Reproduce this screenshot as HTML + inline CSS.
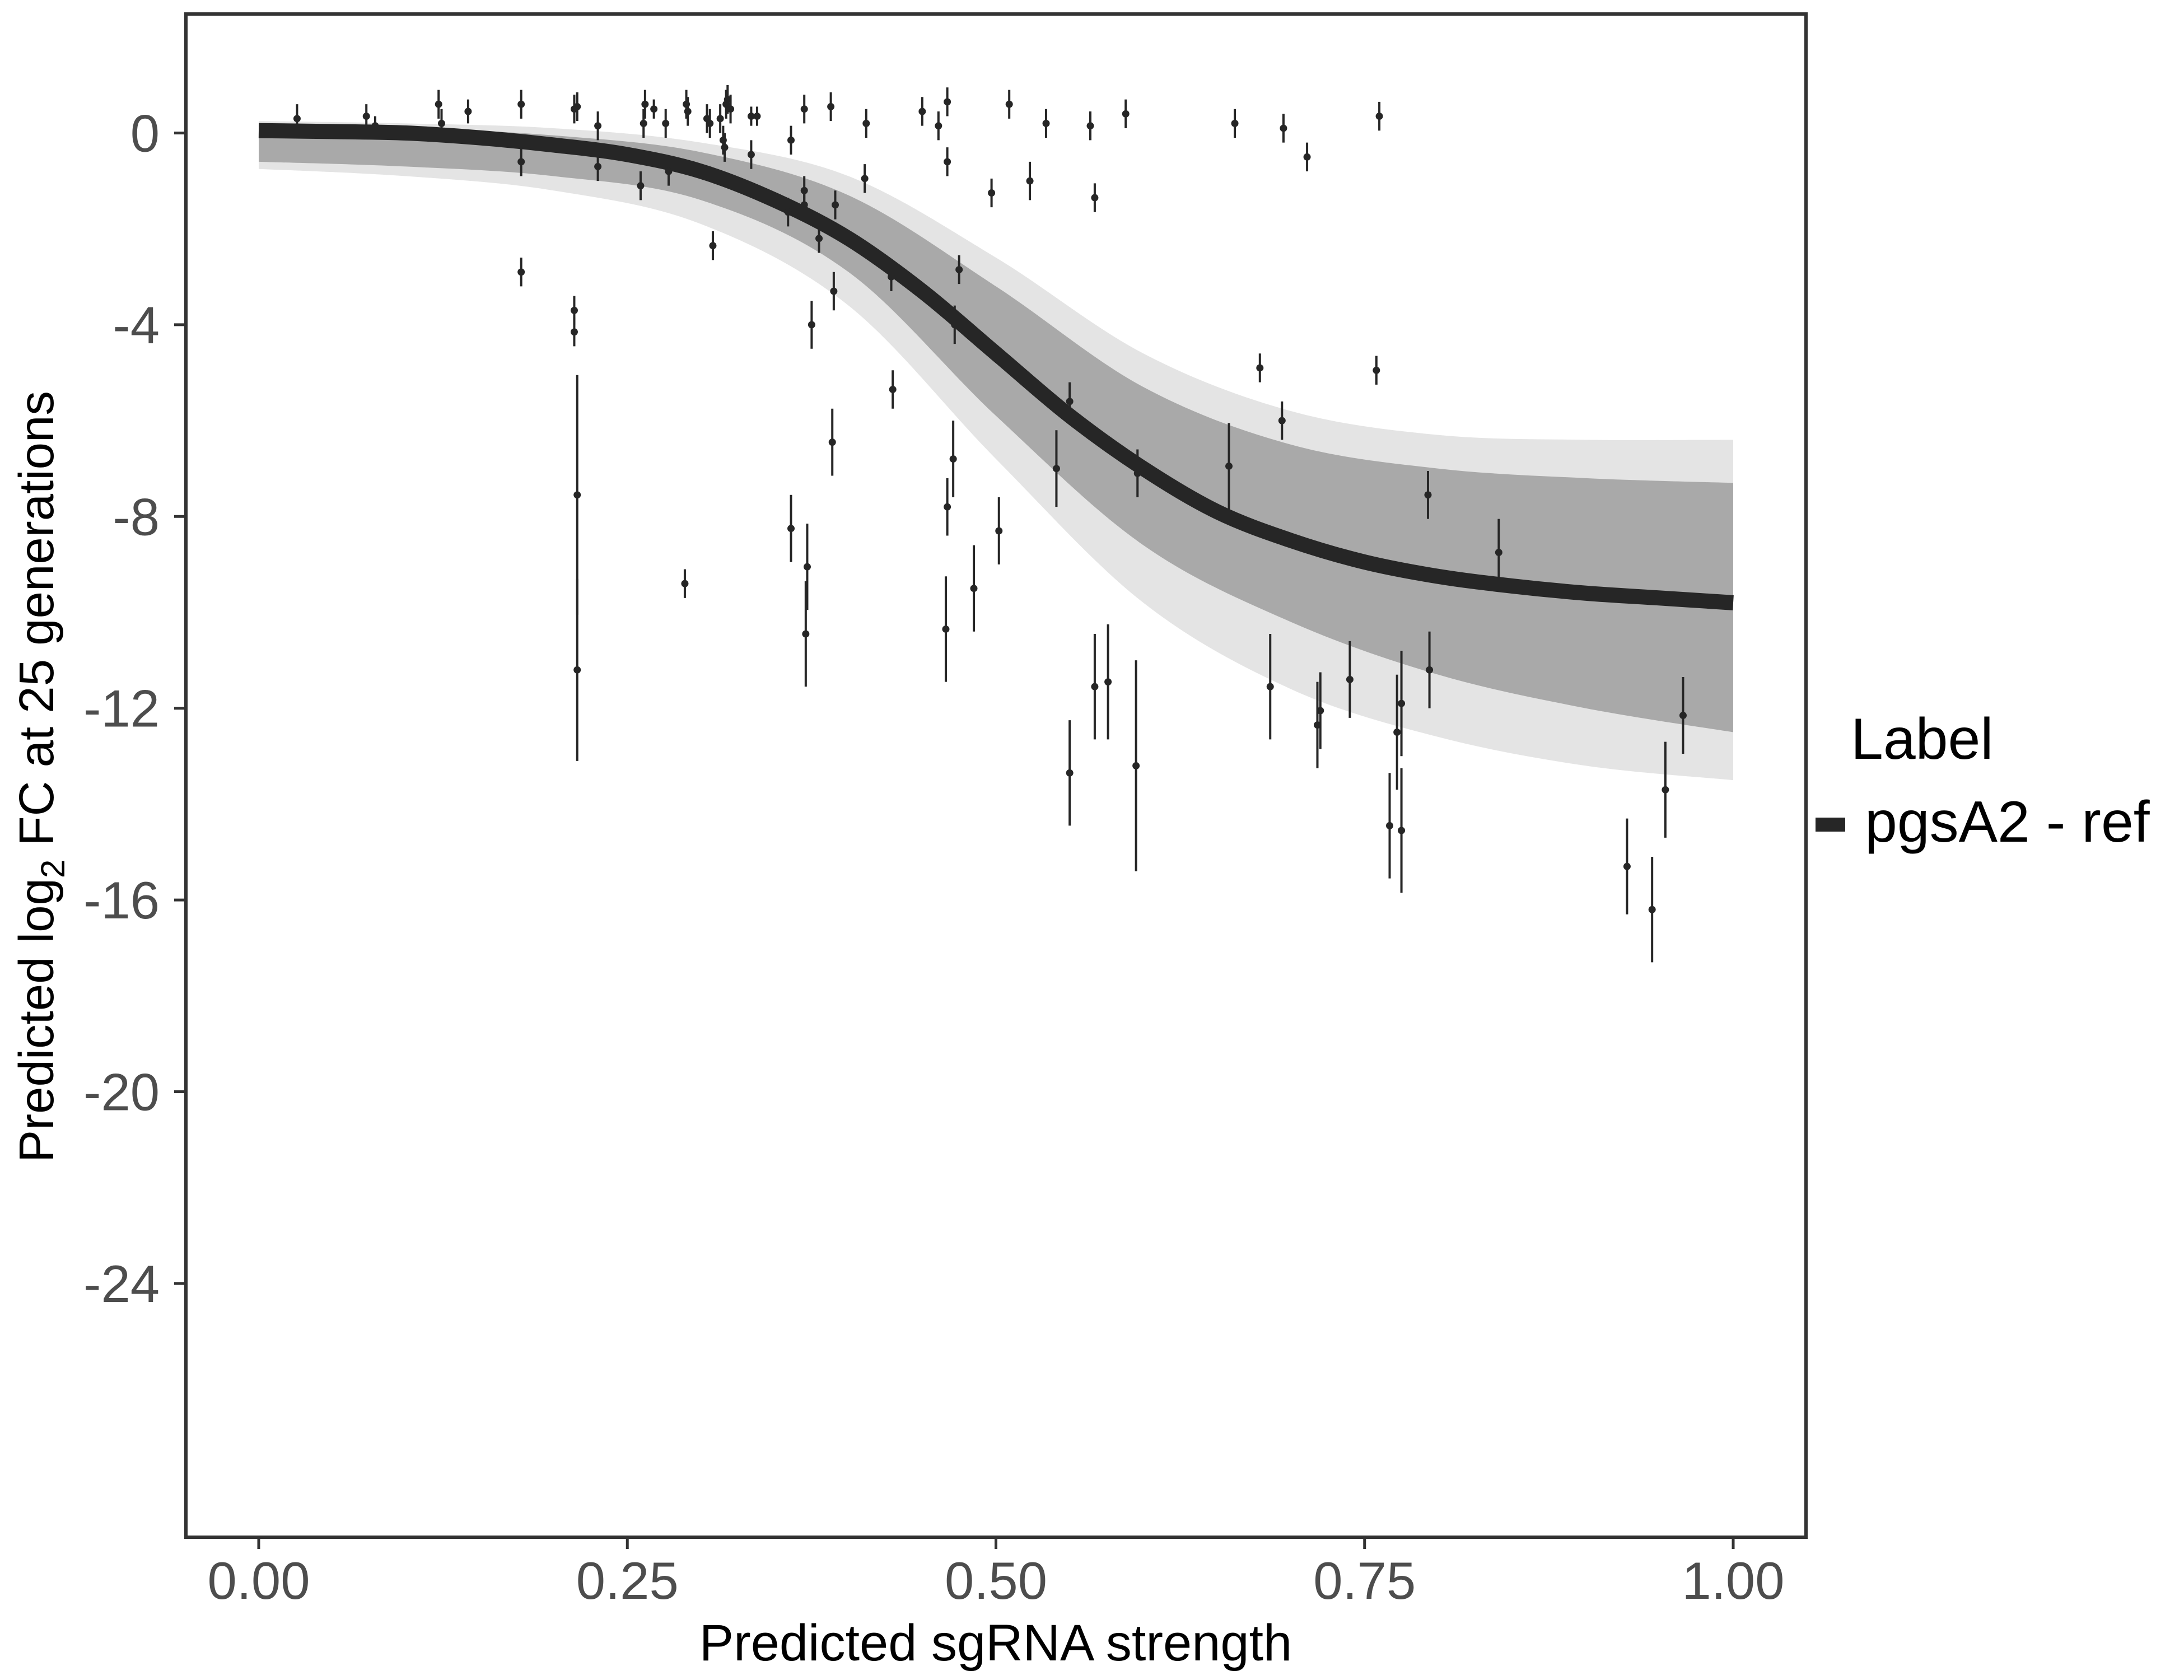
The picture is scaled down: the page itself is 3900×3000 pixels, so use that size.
<!DOCTYPE html>
<html><head><meta charset="utf-8"><style>
html,body{margin:0;padding:0;background:#fff;}
svg{display:block;font-family:"Liberation Sans",sans-serif;}
</style></head><body>
<svg id="chart" width="3900" height="3000" viewBox="0 0 3900 3000" xmlns="http://www.w3.org/2000/svg">
<rect width="3900" height="3000" fill="#fff"/>
<g id="plot"></g>
<g id="axes"></g>
<text x="1778" y="2965" font-size="92" text-anchor="middle" fill="#000">Predicted sgRNA strength</text>
<text transform="translate(95,1387) rotate(-90)" font-size="87" text-anchor="middle" fill="#000">Predicted  log<tspan font-size="60" dy="20">2</tspan><tspan dy="-20"> FC at 25 generations</tspan></text>
<text x="3305" y="1355" font-size="104" fill="#000">Label</text>
<rect x="3242" y="1460" width="53" height="25" fill="#262626"/>
<text x="3330" y="1503" font-size="104" fill="#000">pgsA2 - ref</text>
</svg>
<script>
const curveX=[0,0.05,0.1,0.15,0.2,0.25,0.3,0.35,0.4,0.45,0.5,0.55,0.6,0.65,0.7,0.75,0.8,0.85,0.9,0.95,1.0];
const curveY=[0.05,0.03,0,-0.1,-0.25,-0.45,-0.8,-1.4,-2.2,-3.3,-4.6,-5.9,-7.0,-7.9,-8.5,-8.95,-9.25,-9.45,-9.6,-9.7,-9.8];
const bandX=[0,0.1,0.2,0.3,0.4,0.5,0.6,0.7,0.8,0.9,1.0];
const coreUpper=[0.15,0.1,-0.05,-0.4,-1.3,-3.2,-5.3,-6.5,-7.0,-7.2,-7.3];
const coreLower=[-0.6,-0.7,-0.9,-1.4,-2.9,-5.9,-8.6,-10.2,-11.3,-12.0,-12.5];
const fringeUpper=[0.25,0.2,0.1,-0.2,-0.9,-2.6,-4.6,-5.8,-6.3,-6.4,-6.4];
const fringeLower=[-0.75,-0.9,-1.2,-1.9,-3.6,-6.8,-9.8,-11.6,-12.6,-13.2,-13.5];
const ptX=[0.026,0.073,0.079,0.122,0.124,0.142,0.178,0.178,0.178,0.214,0.216,0.214,0.214,0.216,0.216,0.23,0.23,0.259,0.261,0.262,0.268,0.276,0.278,0.289,0.29,0.291,0.304,0.306,0.308,0.313,0.315,0.316,0.317,0.318,0.32,0.334,0.338,0.334,0.359,0.361,0.361,0.37,0.37,0.37,0.372,0.371,0.375,0.38,0.388,0.391,0.39,0.389,0.412,0.411,0.429,0.43,0.45,0.461,0.467,0.467,0.467,0.466,0.472,0.471,0.475,0.485,0.497,0.502,0.509,0.523,0.534,0.541,0.55,0.55,0.564,0.567,0.567,0.576,0.588,0.595,0.596,0.658,0.662,0.679,0.686,0.694,0.695,0.711,0.718,0.72,0.74,0.758,0.76,0.767,0.772,0.775,0.775,0.793,0.794,0.841,0.928,0.945,0.954,0.966];
const ptY=[0.3,0.35,0.15,0.6,0.2,0.45,0.6,-0.6,-2.9,0.5,0.55,-3.7,-4.15,-7.55,-11.2,0.15,-0.7,-1.1,0.2,0.6,0.5,0.2,-0.8,-9.4,0.6,0.45,0.3,0.2,-2.35,0.3,-0.15,-0.3,0.6,0.7,0.5,0.35,0.35,-0.45,-1.65,-0.15,-8.25,0.5,-1.2,-1.5,-9.05,-10.45,-4.0,-2.2,0.55,-1.5,-3.3,-6.45,0.2,-0.95,-3.0,-5.35,0.45,0.15,0.65,-0.6,-7.8,-10.35,-4.0,-6.8,-2.85,-9.5,-1.25,-8.3,0.6,-1.0,0.2,-7.0,-5.6,-13.35,0.15,-1.35,-11.55,-11.45,0.4,-13.2,-7.1,-6.95,0.2,-4.9,-11.55,-6.0,0.1,-0.5,-12.35,-12.05,-11.4,-4.95,0.35,-14.45,-12.5,-11.9,-14.55,-7.55,-11.2,-8.75,-15.3,-16.2,-13.7,-12.15];
const ptErr=[0.3,0.25,0.2,0.3,0.3,0.25,0.3,0.3,0.3,0.3,0.3,0.3,0.3,2.5,1.9,0.3,0.3,0.3,0.3,0.3,0.2,0.3,0.3,0.3,0.3,0.3,0.3,0.3,0.3,0.3,0.3,0.3,0.3,0.3,0.3,0.2,0.2,0.3,0.3,0.3,0.7,0.3,0.3,0.3,0.9,1.1,0.5,0.3,0.3,0.3,0.4,0.7,0.3,0.3,0.3,0.4,0.3,0.3,0.3,0.3,0.6,1.1,0.4,0.8,0.3,0.9,0.3,0.7,0.3,0.4,0.3,0.8,0.4,1.1,0.3,0.3,1.1,1.2,0.3,2.2,0.5,0.9,0.3,0.3,1.1,0.4,0.3,0.3,0.9,0.8,0.8,0.3,0.3,1.1,1.2,1.1,1.3,0.5,0.8,0.7,1.0,1.1,1.0,0.8];
const xTicks=[0,0.25,0.5,0.75,1.0];
const xTickLabels=["0.00","0.25","0.50","0.75","1.00"];
const yTicks=[0,-4,-8,-12,-16,-20,-24];
const yTickLabels=["0","-4","-8","-12","-16","-20","-24"];

const NS="http://www.w3.org/2000/svg";
const X0=462,X1=3095,Y0=237.5,YS=85.6;
function sx(v){return X0+(X1-X0)*v;}
function sy(v){return Y0-v*YS;}
const plot=document.getElementById('plot'),axes=document.getElementById('axes');
function mk(tag,attrs,parent){const e=document.createElementNS(NS,tag);for(const k in attrs)e.setAttribute(k,attrs[k]);parent.appendChild(e);return e;}
function smooth(pts,start){
  let d=start?('M'+pts[0][0]+' '+pts[0][1]):('L'+pts[0][0]+' '+pts[0][1]);
  for(let i=0;i<pts.length-1;i++){
    const p0=pts[Math.max(0,i-1)],p1=pts[i],p2=pts[i+1],p3=pts[Math.min(pts.length-1,i+2)];
    const c1=[p1[0]+(p2[0]-p0[0])/6,p1[1]+(p2[1]-p0[1])/6];
    const c2=[p2[0]-(p3[0]-p1[0])/6,p2[1]-(p3[1]-p1[1])/6];
    d+='C'+c1[0]+' '+c1[1]+' '+c2[0]+' '+c2[1]+' '+p2[0]+' '+p2[1];
  }
  return d;
}
function band(up,lo,fill,name){
  const a=bandX.map((x,i)=>[sx(x),sy(up[i])]);
  const b=bandX.map((x,i)=>[sx(x),sy(lo[i])]).reverse();
  const p=mk('path',{d:smooth(a,true)+smooth(b,false)+'Z',fill:fill},plot);
  
  
}
band(fringeUpper,fringeLower,'#e4e4e4','posterior-band-outer');
band(coreUpper,coreLower,'#a9a9a9','posterior-band');
const cl=mk('path',{d:smooth(curveX.map((x,i)=>[sx(x),sy(curveY[i])]),true),fill:'none',stroke:'#262626','stroke-width':27,'stroke-linejoin':'round'},plot);


for(let i=0;i<ptX.length;i++){
  const g=mk('g',{},plot);
  
  
  mk('line',{x1:sx(ptX[i]),x2:sx(ptX[i]),y1:sy(ptY[i]+ptErr[i]),y2:sy(ptY[i]-ptErr[i]),stroke:'#262626','stroke-width':4},g);
  mk('circle',{cx:sx(ptX[i]),cy:sy(ptY[i]),r:6.5,fill:'#262626'},g);
}
const fr=mk('rect',{x:332,y:25,width:2893,height:2720,fill:'none',stroke:'#333','stroke-width':6},axes);


for(let i=0;i<xTicks.length;i++){
  mk('line',{x1:sx(xTicks[i]),x2:sx(xTicks[i]),y1:2748,y2:2766,stroke:'#333','stroke-width':5},axes);
  const t=mk('text',{x:sx(xTicks[i]),y:2855,'font-size':94,'text-anchor':'middle',fill:'#4d4d4d'},axes);
  t.textContent=xTickLabels[i];
  
  
}
for(let i=0;i<yTicks.length;i++){
  mk('line',{x1:311,x2:329,y1:sy(yTicks[i]),y2:sy(yTicks[i]),stroke:'#333','stroke-width':5},axes);
  const t=mk('text',{x:285,y:sy(yTicks[i])+33,'font-size':94,'text-anchor':'end',fill:'#4d4d4d'},axes);
  t.textContent=yTickLabels[i];
  
  
}
</script>
</body></html>
